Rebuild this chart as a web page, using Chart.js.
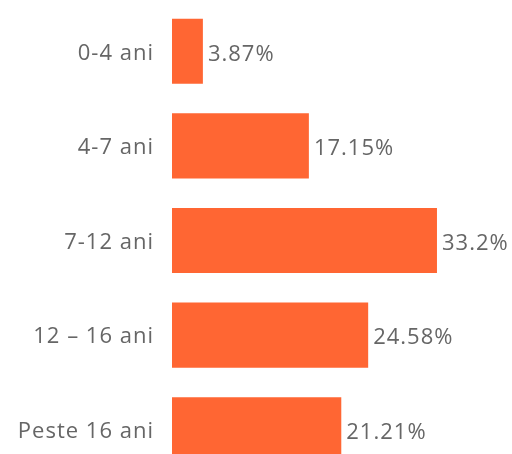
<!DOCTYPE html>
<html>
<head>
<meta charset="utf-8">
<script src="https://cdn.jsdelivr.net/npm/chart.js@4/dist/chart.umd.min.js"></script>
<style>
html,body{margin:0;padding:0;background:#fff;overflow:hidden;width:512px;height:454px;}
canvas{display:block;}
</style>
</head>
<body>
<canvas id="c" width="512" height="477"></canvas>
<script>
const categories = ["0-4 ani", "4-7 ani", "7-12 ani", "12 \u2013 16 ani", "Peste 16 ani"];
const values = [3.87, 17.15, 33.2, 24.58, 21.21];
const valueLabels = ["3.87%", "17.15%", "33.2%", "24.58%", "21.21%"];

const FONT = "'Open Sans', sans-serif";
const GREY = "#666666";
const SPACING = "1px";

const spacingPlugin = {
  id: 'spacing',
  beforeDraw(chart) { chart.ctx.letterSpacing = SPACING; }
};

const valuePlugin = {
  id: 'valueLabels',
  afterDatasetsDraw(chart) {
    const ctx = chart.ctx;
    const meta = chart.getDatasetMeta(0);
    ctx.save();
    ctx.letterSpacing = SPACING;
    ctx.font = "22px " + FONT;
    ctx.fillStyle = GREY;
    ctx.textAlign = 'left';
    ctx.textBaseline = 'middle';
    meta.data.forEach((bar, i) => {
      ctx.fillText(valueLabels[i], bar.x + 5, bar.y + 3);
    });
    ctx.restore();
  }
};

new Chart(document.getElementById('c'), {
  type: 'bar',
  data: {
    labels: categories,
    datasets: [{
      data: values,
      backgroundColor: '#FF6633',
      borderWidth: 0,
      categoryPercentage: 1,
      barPercentage: 0.688
    }]
  },
  options: {
    indexAxis: 'y',
    responsive: false,
    animation: false,
    layout: { padding: { top: 4, left: 0, right: 0, bottom: 0 } },
    plugins: { legend: { display: false }, tooltip: { enabled: false } },
    scales: {
      x: { display: false, min: 0, max: 42.6 },
      y: {
        afterFit: s => { s.width = 172; s.paddingTop = 0; s.paddingBottom = 0; },
        border: { display: false },
        grid: { display: false, drawTicks: false },
        ticks: { color: GREY, padding: 18, labelOffset: 2, font: { family: FONT, size: 22 } }
      }
    }
  },
  plugins: [spacingPlugin, valuePlugin]
});
</script>
</body>
</html>
